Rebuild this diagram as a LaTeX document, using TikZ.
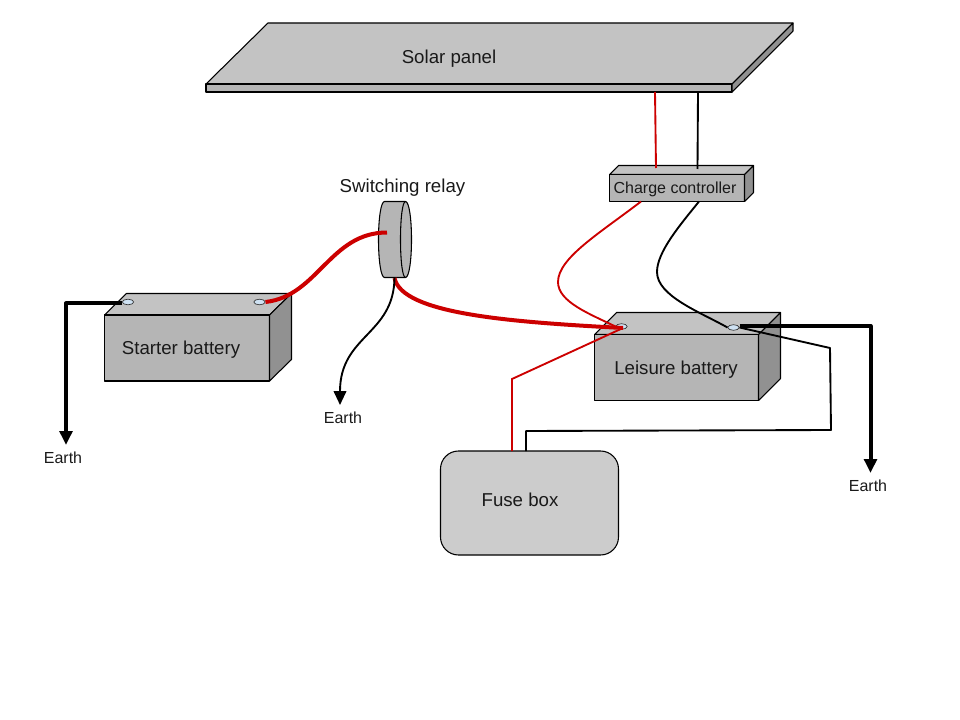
\documentclass[tikz,border=0pt]{standalone}
\usepackage{fontspec}
\setmainfont{Liberation Sans}
\usetikzlibrary{arrows.meta,shapes.geometric}
\definecolor{topgray}{HTML}{C3C3C3}
\definecolor{frontgray}{HTML}{B5B5B5}
\definecolor{sidegray}{HTML}{919191}
\definecolor{fusegray}{HTML}{CCCCCC}
\definecolor{wirered}{HTML}{CC0000}
\definecolor{postblue}{HTML}{CFE2F3}
\tikzset{
  face/.style={draw=black,line width=0.8pt,line join=round},
  post/.style={draw=black!80,fill=postblue,ellipse,line width=0.5pt,minimum width=8.5pt,minimum height=4.2pt,inner sep=0pt},
  bigtext/.style={font=\fontsize{14}{16}\selectfont,text=black!90,inner sep=0pt},
  smalltext/.style={font=\fontsize{12}{14}\selectfont,text=black!90,inner sep=0pt},
  redthick/.style={draw=wirered,line width=3pt},
  redthin/.style={draw=wirered,line width=1.4pt},
  blackthick/.style={draw=black,line width=3pt,line join=round},
  blackthin/.style={draw=black,line width=1.4pt,line join=round},
  earthtip/.style={-{Triangle[length=10.5pt,width=9.5pt]}}
}
\begin{document}
\begin{tikzpicture}[x=0.75pt,y=0.75pt,yscale=-1,xscale=1]
\useasboundingbox (0,0) rectangle (960,720);

%Shape: Solar panel
\draw [face,fill=topgray] (206,84) -- (268,23) -- (793,23) -- (732,84) -- cycle;
\draw [face,fill=frontgray] (206,84) -- (732,84) -- (732,92) -- (206,92) -- cycle;
\draw [face,fill=sidegray] (732,84) -- (793,23) -- (793,31) -- (732,92) -- cycle;

%Shape: Charge controller
\draw [face,fill=topgray] (609.5,174.5) -- (618.5,165.5) -- (753.5,165.5) -- (744.5,174.5) -- cycle;
\draw [face,fill=frontgray] (609.5,174.5) rectangle (744.5,201.5);
\draw [face,fill=sidegray] (744.5,174.5) -- (753.5,165.5) -- (753.5,192.5) -- (744.5,201.5) -- cycle;

%Shape: Starter battery
\draw [face,fill=topgray] (104.5,315) -- (126.5,293.5) -- (291.5,293.5) -- (269.5,315) -- cycle;
\draw [face,fill=frontgray] (104.5,315) rectangle (269.5,381);
\draw [face,fill=sidegray] (269.5,315) -- (291.5,293.5) -- (291.5,359.5) -- (269.5,381) -- cycle;

%Shape: Leisure battery
\draw [face,fill=topgray] (594.5,334.5) -- (616.5,312.5) -- (780.5,312.5) -- (758.5,334.5) -- cycle;
\draw [face,fill=frontgray] (594.5,334.5) rectangle (758.5,400.5);
\draw [face,fill=sidegray] (758.5,334.5) -- (780.5,312.5) -- (780.5,378.5) -- (758.5,400.5) -- cycle;

%Shape: Switching relay
\draw [face,fill=frontgray] (405.5,201.5) -- (384.5,201.5) .. controls (381,201.5) and (378.5,218) .. (378.5,239.5) .. controls (378.5,261) and (381,277.5) .. (384.5,277.5) -- (405.5,277.5) -- cycle;
\draw [face,fill=frontgray] (405.5,201.5) .. controls (409,201.5) and (411.5,218) .. (411.5,239.5) .. controls (411.5,261) and (409,277.5) .. (405.5,277.5) .. controls (402.5,277.5) and (400.5,261) .. (400.5,239.5) .. controls (400.5,218) and (402.5,201.5) .. (405.5,201.5) -- cycle;

%Shape: Fuse box
\node (fusebox) [draw=black,line width=0.8pt,fill=fusegray,rounded corners=13.5pt,minimum width=133.5pt,minimum height=78pt,inner sep=0pt] at (529.5,503) {};

%Terminals
\node (startneg) [post] at (128,302) {};
\node (startpos) [post] at (259.5,302) {};
\node (leisurepos) [post] at (621.5,326.5) {};
\node (leisureneg) [post] at (733.5,327.5) {};

% Text Node
\node (solarlabel) [bigtext] at (449,58.5) {Solar panel};
\node (chargelabel) [smalltext] at (675,189) {Charge controller};
\node (relaylabel) [bigtext] at (402.5,188) {Switching relay};
\node (startlabel) [bigtext] at (181,350) {Starter battery};
\node (leisurelabel) [bigtext] at (676,370) {Leisure battery};
\node (fuselabel) [bigtext] at (520,500) {Fuse box};
\node (earthA) [smalltext] at (63,458) {Earth};
\node (earthB) [smalltext] at (343,418) {Earth};
\node (earthC) [smalltext] at (868,486) {Earth};

%Wire ends and bends
\coordinate (panelred) at (655,92);
\coordinate (panelblack) at (698,92);
\coordinate (ctrlredin) at (656,168);
\coordinate (ctrlblackin) at (697.5,169);
\coordinate (ctrlredout) at (641,201.5);
\coordinate (ctrlblackout) at (699,201.5);
\coordinate (relayin) at (387,232.5);
\coordinate (relayred) at (394.5,278);
\coordinate (relayblack) at (394.5,277.5);
\coordinate (cornerA) at (66,303.5);
\coordinate (tipA) at (66,445);
\coordinate (tipB) at (340,405);
\coordinate (cornerC) at (870.5,326);
\coordinate (tipC) at (870.5,473);
\coordinate (bendA) at (512,379);
\coordinate (fusered) at (512,451);
\coordinate (bendB) at (830,348);
\coordinate (bendC) at (831,430);
\coordinate (bendD) at (526,431);
\coordinate (fuseblack) at (526,451);
\coordinate (leisurered) at (623,328);

%Wires
\draw [redthin] (panelred) -- (ctrlredin);
\draw [blackthin] (panelblack) -- (ctrlblackin);
\draw [redthin] (ctrlredout) .. controls (600,233) and (558,258) .. (558,282) .. controls (558,302) and (590,314) .. (leisurepos.west);
\draw [blackthin] (ctrlblackout) .. controls (680,225) and (657,252) .. (657,272) .. controls (657,296) and (700,312) .. (leisureneg.west);
\draw [redthick] (startpos.east) .. controls (318,296) and (330,232.5) .. (relayin);
\draw [redthick] (relayred) .. controls (402,314) and (510,322) .. (leisurered);
\draw [blackthin,earthtip] (relayblack) .. controls (394,335) and (340,335) .. (tipB);
\draw [redthin] (leisurered) -- (bendA) -- (fusered);
\draw [blackthin] (leisureneg.east) -- (bendB) -- (bendC) -- (bendD) -- (fuseblack);
\draw [blackthick,earthtip] (startneg.west |- cornerA) -- (cornerA) -- (tipA);
\draw [blackthick,earthtip] (leisureneg.east |- cornerC) -- (cornerC) -- (tipC);

\end{tikzpicture}
\end{document}
